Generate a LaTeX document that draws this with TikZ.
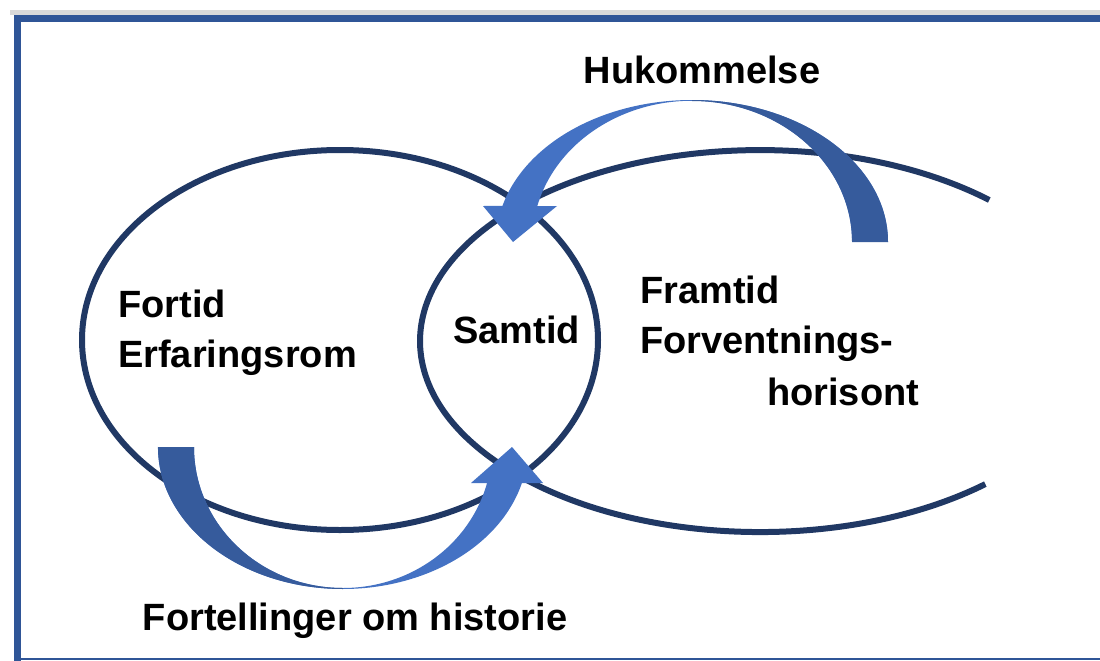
\documentclass[tikz,border=0pt]{standalone}
\usepackage{fontspec}
\setmainfont{Liberation Sans}
\definecolor{navy}{HTML}{203864}
\definecolor{framblue}{HTML}{2F5597}
\definecolor{lightarrow}{HTML}{4472C4}
\definecolor{darkarrow}{HTML}{365B9C}
\definecolor{topgray}{HTML}{D9D9D9}
\tikzset{ring/.style = {draw=navy, line width=6pt},
         txt/.style = {font=\fontsize{38}{46}\selectfont\bfseries, anchor=base west, inner sep=0pt}}

\begin{document}
\begin{tikzpicture}[x=1pt, y=1pt, yscale=-1]
  \useasboundingbox (0,0) rectangle (1100,661);
  \fill[white] (0,0) rectangle (1100,661);
  \fill[topgray] (10,10) rectangle (1100,15.5);
  \fill[framblue] (14,15.5) rectangle (1100,22);
  \fill[framblue] (14,15.5) rectangle (21,661);
  \fill[framblue] (21,658) rectangle (1100,660);

  \draw[ring] (340,340) ellipse [x radius=258, y radius=190];
  \draw[ring] (985.3,484.1) arc[start angle=48.5, end angle=312.4, x radius=340, y radius=191];

  \fill[lightarrow] (158,447) -- (194,447) arc[start angle=180, end angle=14.8, x radius=149, y radius=141]
        -- (471,483) -- (512,447) -- (543,483) -- (521.9,483)
        arc[start angle=14.7, end angle=180, x radius=185, y radius=142] -- cycle;
  \fill[darkarrow] (158,447) -- (194,447) arc[start angle=180, end angle=90, x radius=149, y radius=141]
        -- (343,589) arc[start angle=90, end angle=180, x radius=185, y radius=142] -- cycle;

  \fill[lightarrow] (888,242) arc[start angle=0, end angle=-165.3, x radius=196, y radius=142]
        -- (483,206) -- (513,242) -- (557,206) -- (537.3,206)
        arc[start angle=-165.3, end angle=0, x radius=160, y radius=141] -- cycle;
  \fill[darkarrow] (888,242) arc[start angle=0, end angle=-90, x radius=196, y radius=142]
        -- (692,101) arc[start angle=-90, end angle=0, x radius=160, y radius=141] -- cycle;

  \node[txt] (fortid) at (118,317) {Fortid};
  \node[txt] (erfaring) at (118,367) {Erfaringsrom};
  \node[txt] (samtid) at (453,343) {Samtid};
  \node[txt] (framtid) at (640,303) {Framtid};
  \node[txt] (forventning) at (640,353) {Forventnings-};
  \node[txt] (horisont) at (767,405) {horisont};
  \node[txt, anchor=base] (hukommelse) at (702,84) {Hukommelse};
  \node[txt, anchor=base] (fortelling) at (355,630) {Fortellinger om historie};
\end{tikzpicture}
\end{document}
